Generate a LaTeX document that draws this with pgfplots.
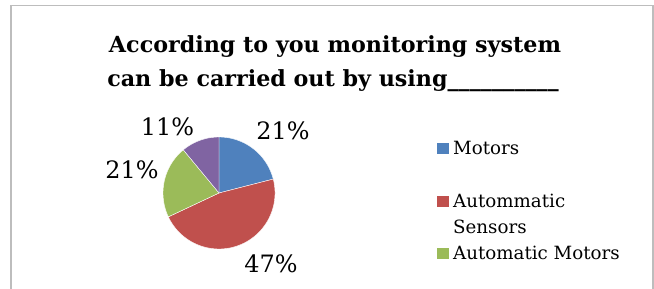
\documentclass[border=0pt]{standalone}
\usepackage{pgfplots}
\usepackage{pgfplotstable}
\pgfplotsset{compat=1.18}
\usepackage{fontspec}
\setmainfont{DejaVu Serif}
\definecolor{cblue}{HTML}{4F81BD}
\definecolor{cred}{HTML}{C0504D}
\definecolor{cgreen}{HTML}{9BBB59}
\definecolor{cpurple}{HTML}{8064A2}
\definecolor{frame}{HTML}{BDBDBD}
% shares (percent), clockwise from 12 o'clock
\def\pA{21}\def\pB{47}\def\pC{21}\def\pD{11}
\pgfmathsetmacro\aA{90}
\pgfmathsetmacro\aB{\aA-3.6*\pA}
\pgfmathsetmacro\aC{\aB-3.6*\pB}
\pgfmathsetmacro\aD{\aC-3.6*\pC}
\pgfmathsetmacro\aE{\aD-3.6*\pD}
\def\cx{219}\def\cy{95}\def\rr{56}
\begin{document}
\begin{tikzpicture}[x=1bp,y=1bp]
\path[use as bounding box] (0,0) rectangle (654,288);
\begin{axis}[at={(0,0)}, anchor=south west, scale only axis,
  width=654bp, height=288bp, xmin=0, xmax=654, ymin=0, ymax=288,
  hide axis, clip=true]
% frame (bottom cut off)
\draw[line width=1.5bp, color=frame] (axis cs:11,-20) -- (axis cs:11,282.5) -- (axis cs:652.8,282.5) -- (axis cs:652.8,-20);
% pie slices
\addplot[fill=cblue, draw=white, line width=0.4bp, domain=\aB:\aA, samples=60, variable=\t]
  ({\cx+\rr*cos(\t)},{\cy+\rr*sin(\t)}) -- (axis cs:\cx,\cy) -- cycle;
\addplot[fill=cred, draw=white, line width=0.4bp, domain=\aC:\aB, samples=100, variable=\t]
  ({\cx+\rr*cos(\t)},{\cy+\rr*sin(\t)}) -- (axis cs:\cx,\cy) -- cycle;
\addplot[fill=cgreen, draw=white, line width=0.4bp, domain=\aD:\aC, samples=60, variable=\t]
  ({\cx+\rr*cos(\t)},{\cy+\rr*sin(\t)}) -- (axis cs:\cx,\cy) -- cycle;
\addplot[fill=cpurple, draw=white, line width=0.4bp, domain=\aE:\aD, samples=40, variable=\t]
  ({\cx+\rr*cos(\t)},{\cy+\rr*sin(\t)}) -- (axis cs:\cx,\cy) -- cycle;
% data labels
\node[inner sep=0, font=\fontsize{24}{28}\selectfont] at (axis cs:283,157) {21\%};
\node[inner sep=0, font=\fontsize{24}{28}\selectfont] at (axis cs:271,24) {47\%};
\node[inner sep=0, font=\fontsize{24}{28}\selectfont] at (axis cs:132,118) {21\%};
\node[inner sep=0, font=\fontsize{24}{28}\selectfont] at (axis cs:167.5,161) {11\%};
% title
\node[inner sep=0, anchor=base, font=\bfseries\fontsize{22.3}{34}\selectfont] at (axis cs:335,235) {According to you monitoring system};
\node[inner sep=0, anchor=base, font=\bfseries\fontsize{22.3}{34}\selectfont] at (axis cs:333,201) {can be carried out by using\_\_\_\_\_\_\_\_\_\_};
% legend
\fill[cblue] (axis cs:437,134) rectangle (axis cs:449,145);
\fill[cred] (axis cs:437,81) rectangle (axis cs:449,92);
\fill[cgreen] (axis cs:437,29) rectangle (axis cs:449,40);
\node[inner sep=0, anchor=base west, font=\fontsize{18.3}{22}\selectfont] at (axis cs:453,134) {Motors};
\node[inner sep=0, anchor=base west, font=\fontsize{18.3}{22}\selectfont] at (axis cs:453,81) {Autommatic};
\node[inner sep=0, anchor=base west, font=\fontsize{18.3}{22}\selectfont] at (axis cs:453,55) {Sensors};
\node[inner sep=0, anchor=base west, font=\fontsize{18.3}{22}\selectfont] at (axis cs:453,29) {Automatic Motors};
\end{axis}
\end{tikzpicture}
\end{document}
